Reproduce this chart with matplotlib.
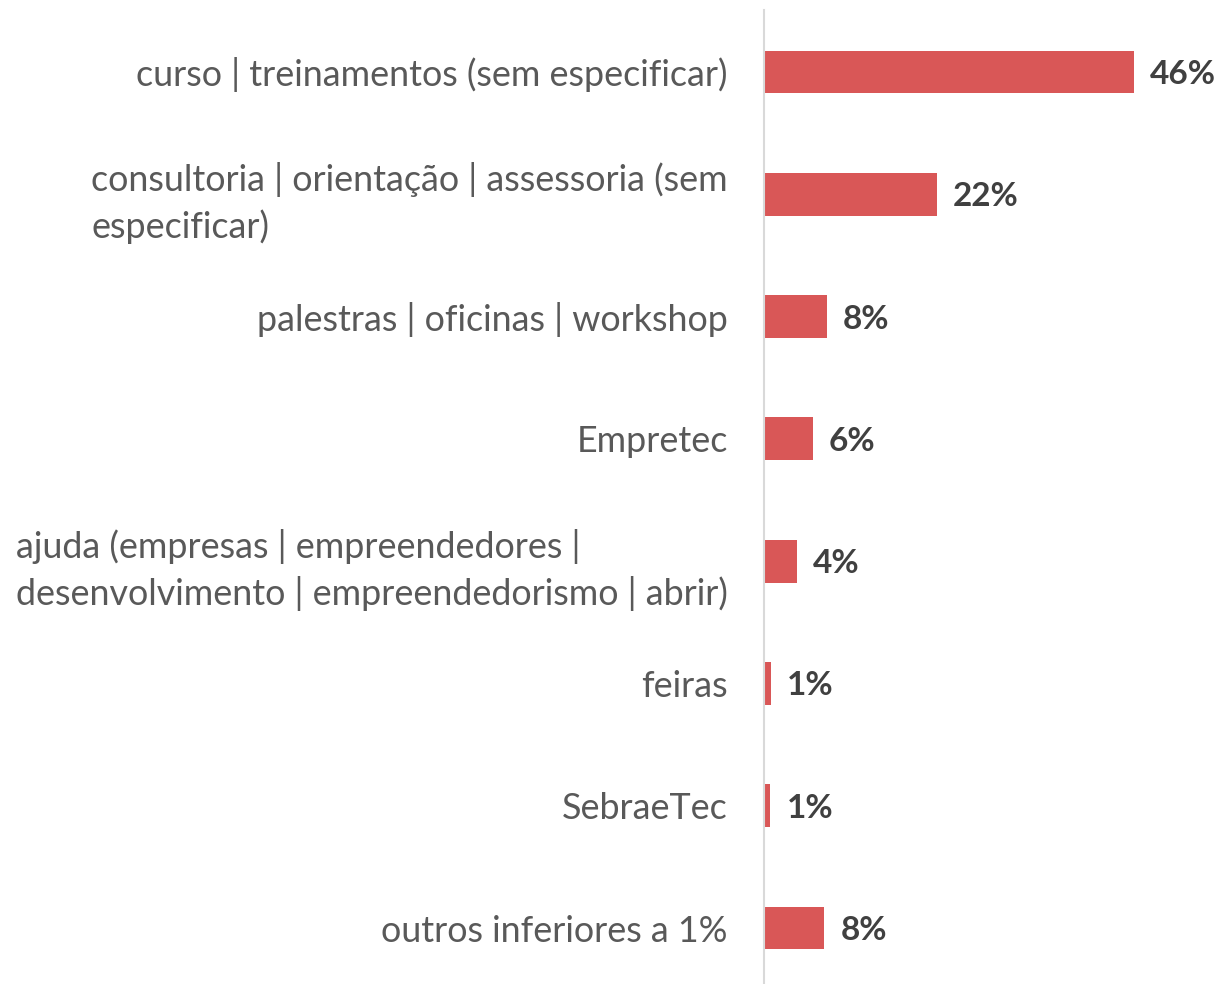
import matplotlib.pyplot as plt

# --- dados ---
categorias = [
    "curso | treinamentos (sem especificar)",
    "consultoria | orientação | assessoria (sem\nespecificar)",
    "palestras | oficinas | workshop",
    "Empretec",
    "ajuda (empresas | empreendedores |\ndesenvolvimento | empreendedorismo | abrir)",
    "feiras",
    "SebraeTec",
    "outros inferiores a 1%",
]
valores = [46, 21.5, 7.8, 6.1, 4.1, 0.9, 0.8, 7.5]
rotulos = ["46%", "22%", "8%", "6%", "4%", "1%", "1%", "8%"]

plt.rcParams['font.family'] = ['Lato', 'DejaVu Sans']

fig = plt.figure(figsize=(12.22, 9.84), dpi=100)
ax = fig.add_axes([764 / 1222, 0, (1222 - 764) / 1222, 1 - 10 / 984])

pos = list(range(len(categorias)))
ax.barh(pos, valores, height=0.35, color='#D95757')

for p, v, r in zip(pos, valores, rotulos):
    ax.text(v + 2.0, p + 0.02, r, ha='left', va='center', fontsize=24,
            fontweight='bold', color='#404040')

ax.set_xlim(0, (1222 - 764) / 8.04)
ax.set_ylim(7 + (984 - 928) / 122.3, -(72 - 10) / 122.3)

ax.set_yticks(pos)
ax.set_yticklabels(categorias, fontsize=25.8, color='#595959',
                   linespacing=1.4, multialignment='left')
ax.tick_params(axis='y', length=0, pad=26)
ax.set_xticks([])

for s in ['top', 'right', 'bottom']:
    ax.spines[s].set_visible(False)
ax.spines['left'].set_color('#D9D9D9')
ax.spines['left'].set_linewidth(1.5)

fig.savefig('out.png', dpi=100)
